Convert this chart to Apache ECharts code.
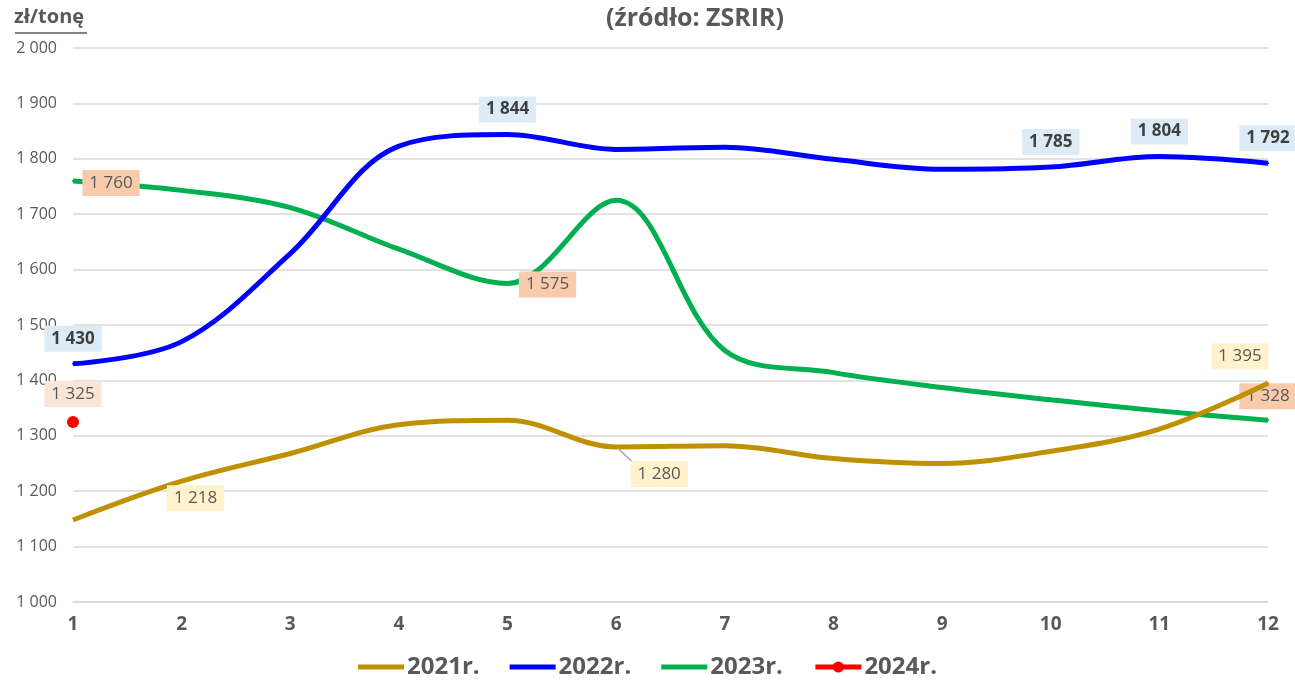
<!DOCTYPE html>
<html>
<head>
<meta charset="utf-8">
<script src="https://cdn.jsdelivr.net/npm/echarts@6/dist/echarts.min.js"></script>
<style>
html,body{margin:0;padding:0;background:#fff;}
#main{width:1295px;height:686px;}
</style>
</head>
<body>
<div id="main"></div>
<script>
// ---- data ----
const months = ['1','2','3','4','5','6','7','8','9','10','11','12'];
const y2021 = [1148, 1218, 1268, 1320, 1328, 1280, 1282, 1259, 1250, 1272, 1312, 1395];
const y2022 = [1430, 1470, 1629, 1823, 1844, 1817, 1821, 1799, 1781, 1785, 1804, 1792];
const y2023 = [1760, 1743, 1712, 1637, 1575, 1725, 1454, 1414, 1387, 1365, 1345, 1328];
const y2024 = [1325];
const seriesNames = ['2021r.', '2022r.', '2023r.', '2024r.'];
const yTicks = [1000, 1100, 1200, 1300, 1400, 1500, 1600, 1700, 1800, 1900, 2000];

// ---- styling ----
const TXT = '#595959';
const FONT = '"Open Sans", "Liberation Sans", sans-serif';
const SMOOTH = 0.35;
const fmt = v => String(v).replace(/\B(?=(\d{3})+(?!\d))/g, ' ');

function labelled(values, color, spec) {
  return values.map((v, i) => {
    const s = spec[i];
    if (!s) return v;
    const item = {
      value: v,
      symbol: 'circle',
      symbolSize: 2,
      itemStyle: { color: color },
      label: Object.assign({
        show: true,
        position: 'inside',
        formatter: p => fmt(p.value),
        fontFamily: FONT,
        fontSize: 17,
        color: TXT,
        padding: [5, 7, 4, 7]
      }, s.label)
    };
    if (s.line === false) item.labelLine = { show: false };
    return item;
  });
}

const spec2021 = {
  1: { label: { offset: [14, 17], backgroundColor: '#FFF2CC' }, line: false },
  5: { label: { offset: [43, 27], backgroundColor: '#FFF2CC' } },
  11: { label: { offset: [-28, -27], backgroundColor: '#FFF2CC' } }
};
const lab22 = { offset: [0, -25], backgroundColor: '#DDEBF7', fontWeight: 'bold', color: '#404040' };
const spec2022 = { 0: { label: lab22 }, 4: { label: lab22 }, 9: { label: lab22 }, 10: { label: lab22 }, 11: { label: lab22 } };
const spec2023 = {
  0: { label: { offset: [38, 2], backgroundColor: '#F8CBAD' } },
  4: { label: { offset: [40, 1], backgroundColor: '#F8CBAD' } },
  11: { label: { offset: [0, -24], backgroundColor: '#F8CBAD' } }
};

const LINE_ICON = 'path://M0,0H46V5H0Z';

const chart = echarts.init(document.getElementById('main'), null, { renderer: 'canvas' });

const option = {
  animation: false,
  backgroundColor: '#ffffff',
  textStyle: { fontFamily: FONT },
  title: {
    text: '(źródło: ZSRIR)',
    left: 601,
    top: 1,
    textStyle: { fontFamily: FONT, fontSize: 25, fontWeight: 'bold', color: TXT }
  },
  graphic: [
    { type: 'text', left: 14, top: 7, style: { text: 'zł/tonę', fontFamily: FONT, fontSize: 20, fontWeight: 'bold', fill: TXT } },
    { type: 'line', shape: { x1: 15, y1: 33, x2: 87, y2: 33 }, style: { stroke: TXT, lineWidth: 1.5 } }
  ],
  legend: {
    data: [
      { name: seriesNames[0], icon: LINE_ICON },
      { name: seriesNames[1], icon: LINE_ICON },
      { name: seriesNames[2], icon: LINE_ICON },
      { name: seriesNames[3], lineStyle: { width: 5 } }
    ],
    bottom: 2,
    left: 'center',
    itemWidth: 46,
    itemHeight: 14,
    itemGap: 30,
    textStyle: { fontFamily: FONT, fontSize: 24, fontWeight: 'bold', color: TXT, padding: [0, 0, 0, -2] }
  },
  grid: { left: 73, right: 27, top: 48, bottom: 84, containLabel: false },
  xAxis: {
    type: 'category',
    data: months,
    boundaryGap: false,
    axisLine: { lineStyle: { color: '#D9D9D9', width: 1.5 } },
    axisTick: { show: false },
    axisLabel: { fontFamily: FONT, fontSize: 19, fontWeight: 'bold', color: TXT, margin: 13 }
  },
  yAxis: {
    type: 'value',
    min: yTicks[0],
    max: yTicks[yTicks.length - 1],
    interval: 100,
    axisLine: { show: false },
    axisTick: { show: false },
    splitLine: { lineStyle: { color: '#D9D9D9', width: 1.5 } },
    axisLabel: { fontFamily: FONT, fontSize: 16, color: TXT, margin: 16, formatter: v => fmt(v) }
  },
  series: [
    {
      name: seriesNames[0], type: 'line', smooth: SMOOTH, symbol: 'none',
      lineStyle: { color: '#BF9000', width: 5 }, itemStyle: { color: '#BF9000' },
      labelLine: { show: true, lineStyle: { color: '#A6A6A6', width: 1.5 } },
      data: labelled(y2021, '#BF9000', spec2021), z: 3
    },
    {
      name: seriesNames[1], type: 'line', smooth: SMOOTH, symbol: 'none',
      lineStyle: { color: '#0000FF', width: 5 }, itemStyle: { color: '#0000FF' },
      data: labelled(y2022, '#0000FF', spec2022), z: 4
    },
    {
      name: seriesNames[2], type: 'line', smooth: SMOOTH, symbol: 'none',
      lineStyle: { color: '#00B050', width: 5 }, itemStyle: { color: '#00B050' },
      data: labelled(y2023, '#00B050', spec2023), z: 2
    },
    {
      name: seriesNames[3], type: 'line', symbol: 'circle', symbolSize: 12,
      lineStyle: { color: '#FF0000', width: 5 }, itemStyle: { color: '#FF0000' },
      label: {
        show: true, position: 'top', distance: 9, formatter: p => fmt(p.value),
        fontFamily: FONT, fontSize: 17, color: TXT, backgroundColor: '#FBE5D6', padding: [5, 7, 4, 7]
      },
      data: y2024, z: 5
    }
  ]
};
chart.setOption(option);
</script>
</body>
</html>
